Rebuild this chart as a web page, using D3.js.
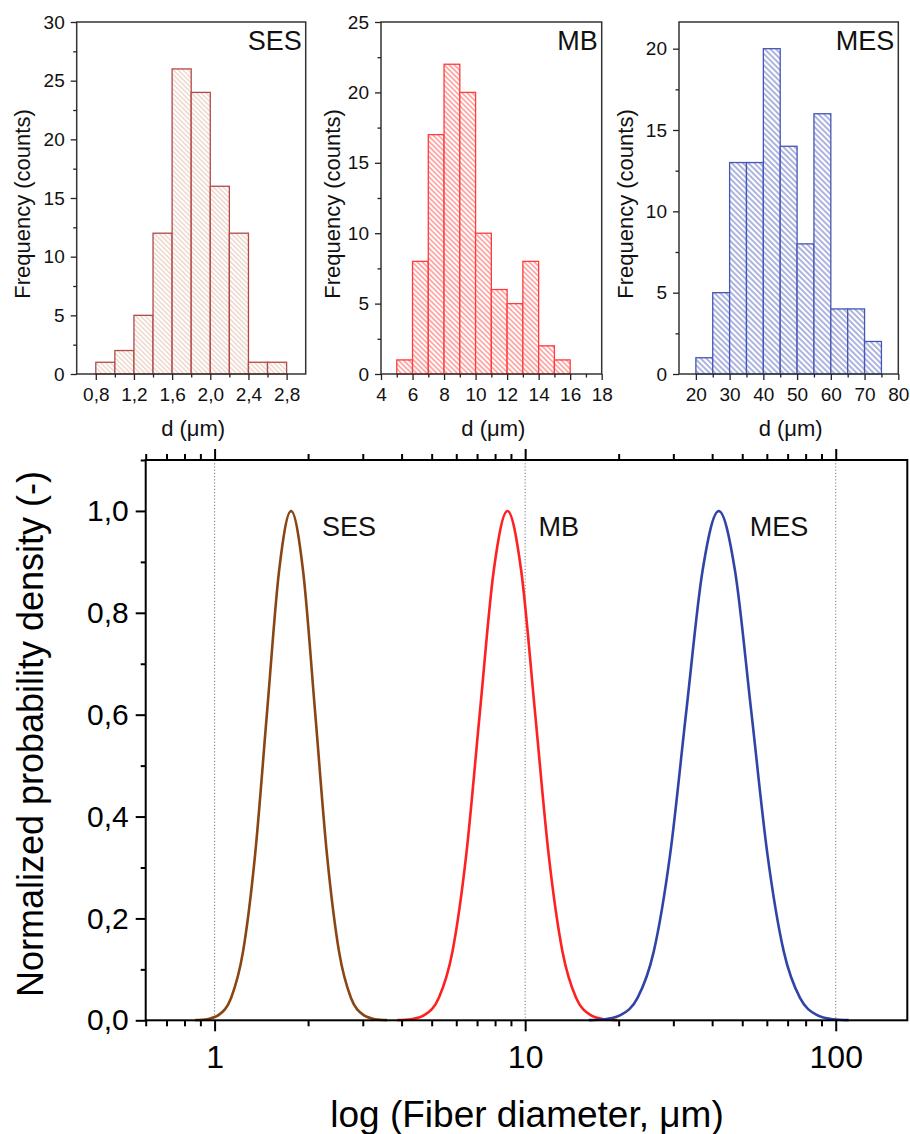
<!DOCTYPE html>
<html>
<head>
<meta charset="utf-8">
<script src="https://cdn.jsdelivr.net/npm/d3@7"></script>
<style>
  html, body { margin: 0; padding: 0; background: #fff; }
  svg { display: block; font-family: "Liberation Sans", Arial, sans-serif; }
</style>
</head>
<body>
<svg id="fig" width="910" height="1134"></svg>
<script>
// ---------- histogram data (bin start, bin width, counts) ----------
const sesBinStart = [0.8, 1.0, 1.2, 1.4, 1.6, 1.8, 2.0, 2.2, 2.4, 2.6];
const sesBinWidth = 0.2;
const sesCounts   = [1, 2, 5, 12, 26, 24, 16, 12, 1, 1];

const mbBinStart = [5, 6, 7, 8, 9, 10, 11, 12, 13, 14, 15];
const mbBinWidth = 1;
const mbCounts   = [1, 8, 17, 22, 20, 10, 6, 5, 8, 2, 1];

const mesBinStart = [20, 25, 30, 35, 40, 45, 50, 55, 60, 65, 70];
const mesBinWidth = 5;
const mesCounts   = [1, 5, 13, 13, 20, 14, 8, 16, 4, 4, 2];

// ---------- histogram tick values ----------
const sesXTicks = [0.8, 1.2, 1.6, 2.0, 2.4, 2.8];
const sesXMinor = [1.0, 1.4, 1.8, 2.2, 2.6];
const sesYTicks = [0, 5, 10, 15, 20, 25, 30];
const mbXTicks  = [4, 6, 8, 10, 12, 14, 16, 18];
const mbXMinor  = [5, 7, 9, 11, 13, 15, 17];
const mbYTicks  = [0, 5, 10, 15, 20, 25];
const mesXTicks = [20, 30, 40, 50, 60, 70, 80];
const mesXMinor = [25, 35, 45, 55, 65, 75];
const mesYTicks = [0, 5, 10, 15, 20];

// ---------- normalized probability density curves ----------
const sesCurveX = [0.866, 0.946, 1.034, 1.130, 1.235, 1.350, 1.476, 1.613, 1.763, 1.927, 2.106, 2.301, 2.515, 2.749, 3.005, 3.284, 3.589];
const sesCurveY = [0.0003, 0.0022, 0.0111, 0.0439, 0.1353, 0.3247, 0.6065, 0.8825, 1.0, 0.8825, 0.6065, 0.3247, 0.1353, 0.0439, 0.0111, 0.0022, 0.0003];
const mbCurveX  = [3.882, 4.298, 4.760, 5.270, 5.834, 6.460, 7.153, 7.920, 8.770, 9.711, 10.752, 11.905, 13.183, 14.596, 16.162, 17.895, 19.815];
const mbCurveY  = [0.0003, 0.0022, 0.0111, 0.0439, 0.1353, 0.3247, 0.6065, 0.8825, 1.0, 0.8825, 0.6065, 0.3247, 0.1353, 0.0439, 0.0111, 0.0022, 0.0003];
const mesCurveX = [16.03, 18.08, 20.40, 23.01, 25.95, 29.28, 33.02, 37.25, 42.02, 47.39, 53.46, 60.30, 68.01, 76.72, 86.54, 97.61, 110.1];
const mesCurveY = [0.0003, 0.0022, 0.0111, 0.0439, 0.1353, 0.3247, 0.6065, 0.8825, 1.0, 0.8825, 0.6065, 0.3247, 0.1353, 0.0439, 0.0111, 0.0022, 0.0003];

const densityYTicks = [0, 0.2, 0.4, 0.6, 0.8, 1.0];
const densityYMinor = [0.1, 0.3, 0.5, 0.7, 0.9, 1.1];
const diameterMajor = [1, 10, 100];
const diameterMinor = [0.6, 0.7, 0.8, 0.9, 2, 3, 4, 5, 6, 7, 8, 9, 20, 30, 40, 50, 60, 70, 80, 90];

const FONT = '"Liberation Sans", Arial, sans-serif';
const commaFmt = d => d3.format(".1f")(d).replace(".", ",");

const svg = d3.select("#fig");
const defs = svg.append("defs");

// diagonal hatching "\\\" for histogram bars
function makeHatch(id, color, spacing, width) {
  const p = defs.append("pattern")
    .attr("id", id)
    .attr("patternUnits", "userSpaceOnUse")
    .attr("width", spacing)
    .attr("height", spacing)
    .attr("patternTransform", "rotate(-45)");
  p.append("rect").attr("width", spacing).attr("height", spacing).attr("fill", "#fff");
  p.append("line")
    .attr("x1", spacing / 2).attr("y1", 0)
    .attr("x2", spacing / 2).attr("y2", spacing)
    .attr("stroke", color).attr("stroke-width", width);
}
makeHatch("hatch-ses", "#e2c3b3", 3.4, 1);
makeHatch("hatch-mb", "#ff6262", 3.6, 1);
makeHatch("hatch-mes", "#5b69c0", 4.0, 1);

function styleAxisText(g, size) {
  g.selectAll("text").attr("font-size", size).attr("font-family", FONT).attr("fill", "#111");
  g.selectAll("line").attr("stroke", "#222").attr("stroke-width", 1.3);
  g.select(".domain").remove();
}

function drawHistogram(cfg) {
  const x = d3.scaleLinear().domain(cfg.xDomain).range([cfg.left, cfg.right]);
  const y = d3.scaleLinear().domain(cfg.yDomain).range([cfg.bottom, cfg.top]);
  const g = svg.append("g");

  // bars
  g.selectAll("rect.bar")
    .data(cfg.starts.map((s, i) => ({ s, c: cfg.counts[i] })))
    .join("rect")
    .attr("class", "bar")
    .attr("x", d => x(d.s))
    .attr("width", d => x(d.s + cfg.binWidth) - x(d.s))
    .attr("y", d => y(d.c))
    .attr("height", d => y(0) - y(d.c))
    .attr("fill", `url(#${cfg.hatch})`)
    .attr("stroke", cfg.stroke)
    .attr("stroke-width", 1.3);

  // frame
  g.append("rect")
    .attr("x", cfg.left).attr("y", cfg.top)
    .attr("width", cfg.right - cfg.left).attr("height", cfg.bottom - cfg.top)
    .attr("fill", "none").attr("stroke", "#333").attr("stroke-width", 1.5);

  // x axis
  const xa = g.append("g").attr("transform", `translate(0,${cfg.bottom})`)
    .call(d3.axisBottom(x).tickValues(cfg.xTicks).tickSize(6).tickPadding(8).tickFormat(cfg.xFmt));
  styleAxisText(xa, 19);
  const xm = g.append("g").attr("transform", `translate(0,${cfg.bottom})`)
    .call(d3.axisBottom(x).tickValues(cfg.xMinor).tickSize(3.5).tickFormat(""));
  styleAxisText(xm, 19);

  // y axis
  const ya = g.append("g").attr("transform", `translate(${cfg.left},0)`)
    .call(d3.axisLeft(y).tickValues(cfg.yTicks).tickSize(6).tickPadding(6).tickFormat(d3.format("d")));
  styleAxisText(ya, 19);
  const yMinor = cfg.yTicks.map(v => v + 2.5).filter(v => v < cfg.yDomain[1]);
  const ym = g.append("g").attr("transform", `translate(${cfg.left},0)`)
    .call(d3.axisLeft(y).tickValues(yMinor).tickSize(3.5).tickFormat(""));
  styleAxisText(ym, 19);

  // titles
  g.append("text")
    .attr("transform", `translate(${cfg.yTitleX},${(cfg.top + cfg.bottom) / 2 + 6}) rotate(-90)`)
    .attr("text-anchor", "middle").attr("dy", "0.35em")
    .attr("font-size", 22).attr("fill", "#111")
    .text("Frequency (counts)");
  g.append("text")
    .attr("x", (cfg.left + cfg.right) / 2 + 2).attr("y", 436)
    .attr("text-anchor", "middle")
    .attr("font-size", 22).attr("fill", "#111")
    .text("d (\u03bcm)");
  g.append("text")
    .attr("x", cfg.right - 4).attr("y", cfg.top + 28)
    .attr("text-anchor", "end")
    .attr("font-size", 27).attr("fill", "#111")
    .text(cfg.label);
}

drawHistogram({
  left: 76.7, right: 305.7, top: 22, bottom: 374,
  xDomain: [0.6, 3.0], yDomain: [0, 30],
  starts: sesBinStart, binWidth: sesBinWidth, counts: sesCounts,
  xTicks: sesXTicks, xMinor: sesXMinor, yTicks: sesYTicks, xFmt: commaFmt,
  hatch: "hatch-ses", stroke: "#b24a48", yTitleX: 22, label: "SES"
});
drawHistogram({
  left: 381, right: 601.7, top: 22, bottom: 374,
  xDomain: [4, 18], yDomain: [0, 25],
  starts: mbBinStart, binWidth: mbBinWidth, counts: mbCounts,
  xTicks: mbXTicks, xMinor: mbXMinor, yTicks: mbYTicks, xFmt: d3.format("d"),
  hatch: "hatch-mb", stroke: "#ff3b3b", yTitleX: 332, label: "MB"
});
drawHistogram({
  left: 679, right: 898.3, top: 22, bottom: 374,
  xDomain: [15, 80], yDomain: [0, 21.64],
  starts: mesBinStart, binWidth: mesBinWidth, counts: mesCounts,
  xTicks: mesXTicks, xMinor: mesXMinor, yTicks: mesYTicks, xFmt: d3.format("d"),
  hatch: "hatch-mes", stroke: "#4656b6", yTitleX: 625, label: "MES"
});

// ---------- lower panel: normalized probability densities ----------
const P = { left: 145.7, right: 907.3, top: 460, bottom: 1020.3 };
const xLog = d3.scaleLog().domain([0.6, 170]).range([P.left, P.right]);
const yD = d3.scaleLinear().domain([0, 1.1]).range([P.bottom, P.top]);
const lower = svg.append("g");

// reference lines at each decade
lower.selectAll("line.decade")
  .data(diameterMajor)
  .join("line")
  .attr("class", "decade")
  .attr("x1", d => xLog(d)).attr("x2", d => xLog(d))
  .attr("y1", P.top).attr("y2", P.bottom)
  .attr("stroke", "#777").attr("stroke-width", 1)
  .attr("stroke-dasharray", "1.2,2");

const curveLine = d3.line()
  .x(d => xLog(d[0]))
  .y(d => yD(d[1]))
  .curve(d3.curveMonotoneX);

const curves = [
  { name: "SES", xs: sesCurveX, ys: sesCurveY, color: "#8b4513" },
  { name: "MB",  xs: mbCurveX,  ys: mbCurveY,  color: "#ff2121" },
  { name: "MES", xs: mesCurveX, ys: mesCurveY, color: "#2f44a6" }
];
curves.forEach(c => {
  const pts = c.xs.map((v, i) => [v, c.ys[i]]);
  lower.append("path")
    .attr("d", curveLine(pts))
    .attr("fill", "none")
    .attr("stroke", c.color)
    .attr("stroke-width", 2.6)
    .attr("stroke-linejoin", "round");
  const peak = pts.reduce((a, b) => (b[1] > a[1] ? b : a));
  lower.append("text")
    .attr("x", xLog(peak[0]) + 31)
    .attr("y", yD(0.95))
    .attr("font-size", 27).attr("fill", "#111")
    .text(c.name);
});

// frame
lower.append("rect")
  .attr("x", P.left).attr("y", P.top)
  .attr("width", P.right - P.left).attr("height", P.bottom - P.top)
  .attr("fill", "none").attr("stroke", "#000").attr("stroke-width", 2);

function styleBig(g, size) {
  g.selectAll("text").attr("font-size", size).attr("font-family", FONT).attr("fill", "#000");
  g.selectAll("line").attr("stroke", "#000").attr("stroke-width", 2);
  g.select(".domain").remove();
}

// bottom axis
const bx = lower.append("g").attr("transform", `translate(0,${P.bottom})`)
  .call(d3.axisBottom(xLog).tickValues(diameterMajor).tickSize(11).tickPadding(14).tickFormat(d3.format("d")));
styleBig(bx, 32);
const bxm = lower.append("g").attr("transform", `translate(0,${P.bottom})`)
  .call(d3.axisBottom(xLog).tickValues(diameterMinor).tickSize(6).tickFormat(""));
styleBig(bxm, 32);

// top axis (ticks only)
const tx = lower.append("g").attr("transform", `translate(0,${P.top})`)
  .call(d3.axisTop(xLog).tickValues(diameterMajor).tickSize(11).tickFormat(""));
styleBig(tx, 32);
const txm = lower.append("g").attr("transform", `translate(0,${P.top})`)
  .call(d3.axisTop(xLog).tickValues(diameterMinor).tickSize(6).tickFormat(""));
styleBig(txm, 32);

// left axis
const ly = lower.append("g").attr("transform", `translate(${P.left},0)`)
  .call(d3.axisLeft(yD).tickValues(densityYTicks).tickSize(10).tickPadding(7).tickFormat(commaFmt));
styleBig(ly, 30);
const lym = lower.append("g").attr("transform", `translate(${P.left},0)`)
  .call(d3.axisLeft(yD).tickValues(densityYMinor).tickSize(5).tickFormat(""));
styleBig(lym, 30);

// axis titles
lower.append("text")
  .attr("transform", `translate(30,734) rotate(-90)`)
  .attr("text-anchor", "middle").attr("dy", "0.35em")
  .attr("font-size", 36).attr("fill", "#000")
  .text("Normalized probability density (-)");
lower.append("text")
  .attr("x", 527).attr("y", 1127)
  .attr("text-anchor", "middle")
  .attr("font-size", 37).attr("fill", "#000")
  .text("log (Fiber diameter, \u03bcm)");
</script>
</body>
</html>
